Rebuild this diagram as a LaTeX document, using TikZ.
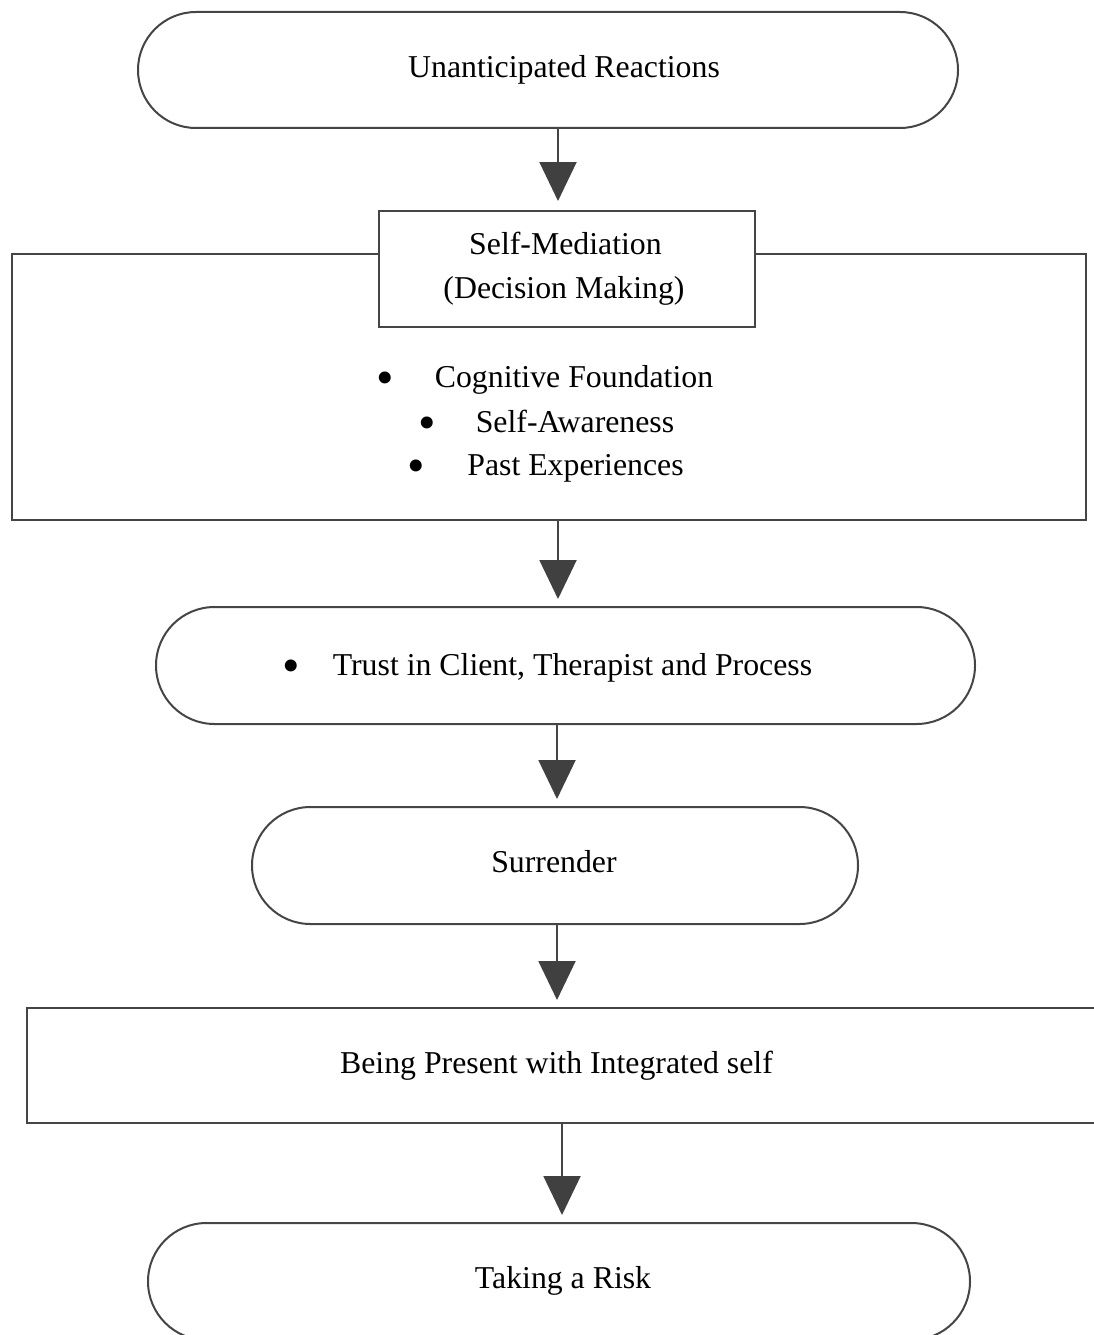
\documentclass[tikz,border=0pt]{standalone}
\usepackage{fontspec}
\setmainfont{Liberation Serif}
\usetikzlibrary{shapes.misc,arrows.meta,calc}
\definecolor{edge}{HTML}{454545}
\definecolor{tipc}{HTML}{404040}
\begin{document}
\begin{tikzpicture}[x=1pt,y=-1pt,
  shapebase/.style={draw=edge,line width=2pt,fill=white,inner sep=0pt,outer sep=0pt},
  stadium/.style={shapebase,rounded rectangle},
  boxnode/.style={shapebase,rectangle},
  lbl/.style={font=\fontsize{31.8}{44}\selectfont,anchor=base,inner sep=0pt,text=black},
  bul/.style={font=\fontsize{50}{50}\selectfont,anchor=base,inner sep=0pt,text=black},
  arr/.style={draw=edge,line width=2pt,-{Triangle[width=37pt,length=39pt,fill=tipc,color=tipc]}}]
\useasboundingbox (0,0) rectangle (1094,1335);
\clip (0,0) rectangle (1094,1335);
% shapes
\node[stadium,minimum width=820pt,minimum height=116pt] (top) at (548,70) {};
\node[boxnode,minimum width=1074pt,minimum height=266pt] (big) at (549,387) {};
\node[boxnode,minimum width=376pt,minimum height=116pt] (inner) at (567,269) {};
\node[stadium,minimum width=819pt,minimum height=117pt] (trust) at (565.5,665.5) {};
\node[stadium,minimum width=606pt,minimum height=117pt] (surr) at (555,865.5) {};
\node[boxnode,minimum width=1083pt,minimum height=115pt] (being) at (568.5,1065.5) {};
\node[stadium,minimum width=822pt,minimum height=117pt] (risk) at (559,1281.5) {};
% texts
\node[lbl] (t1) at (564,78) {Unanticipated Reactions};
\node[lbl] (t2a) at (565.5,254) {Self-Mediation};
\node[lbl] (t2b) at (564,298) {(Decision Making)};
\node[bul] (b1) at (385,394) {•};
\node[lbl] (l1) at (574,387) {Cognitive Foundation};
\node[bul] (b2) at (427,439) {•};
\node[lbl] (l2) at (575,432) {Self-Awareness};
\node[bul] (b3) at (416,482) {•};
\node[lbl] (l3) at (575.5,475) {Past Experiences};
\node[bul] (b4) at (291,682) {•};
\node[lbl] (t3) at (572.5,675) {Trust in Client, Therapist and Process};
\node[lbl] (t4) at (554,872) {Surrender};
\node[lbl] (t5) at (556.5,1073) {Being Present with Integrated self};
\node[lbl] (t6) at (563,1288) {Taking a Risk};
% connectors
\coordinate (c1) at (558,0);
\coordinate (c2) at (557,0);
\coordinate (c3) at (562,0);
\draw[arr] (top.south -| c1) -- ([yshift=10pt]inner.north -| c1);
\draw[arr] (big.south -| c1) -- ([yshift=8pt]trust.north -| c1);
\draw[arr] (trust.south -| c2) -- ([yshift=8pt]surr.north -| c2);
\draw[arr] (surr.south -| c2) -- ([yshift=8pt]being.north -| c2);
\draw[arr] (being.south -| c3) -- ([yshift=8pt]risk.north -| c3);
\end{tikzpicture}
\end{document}
